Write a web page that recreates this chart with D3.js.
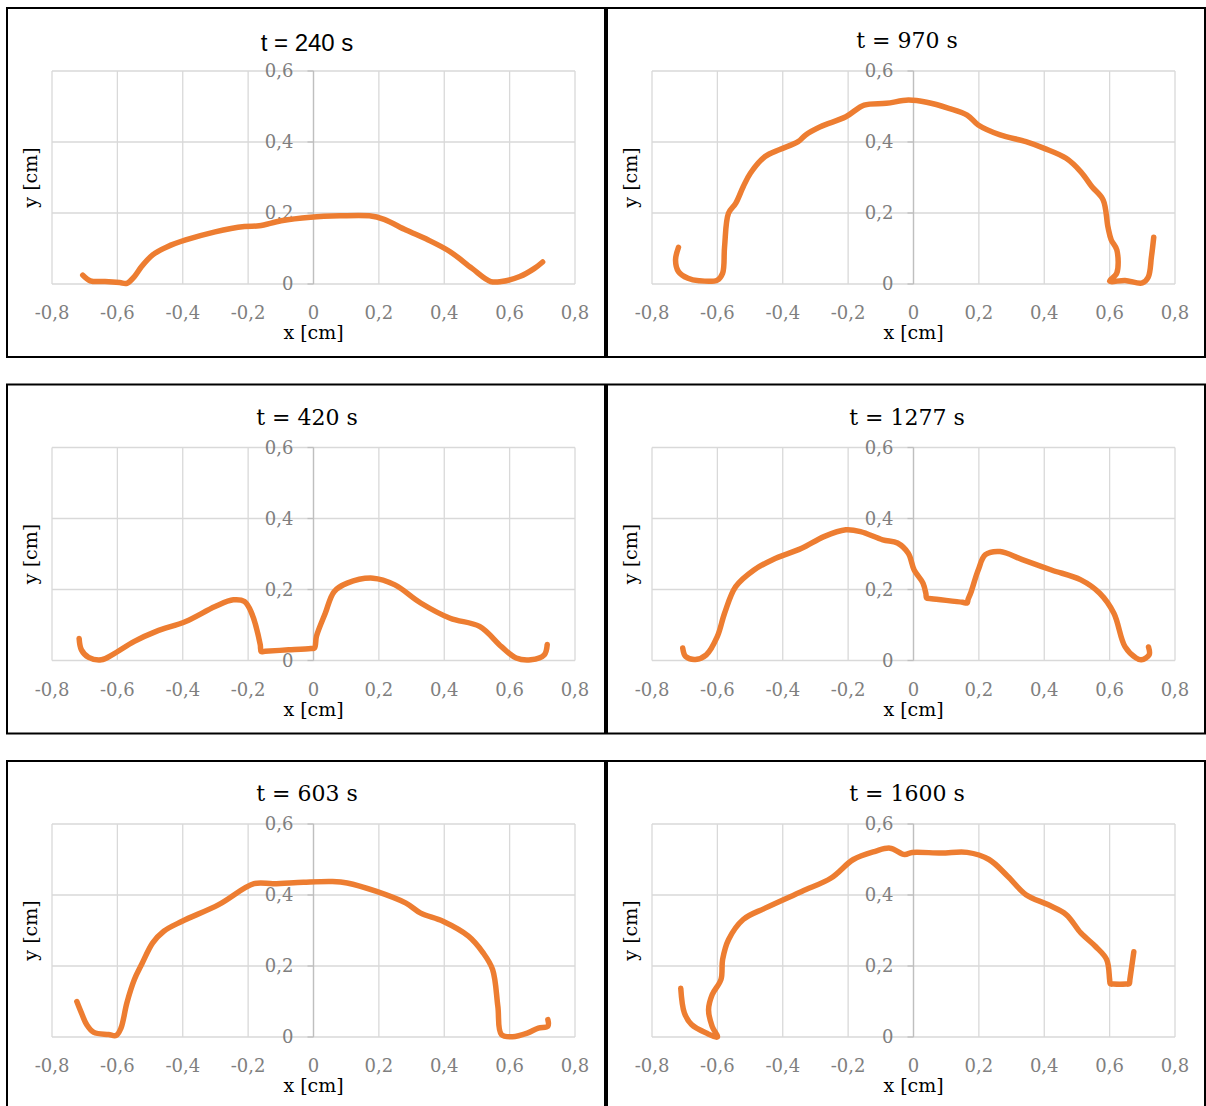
<!DOCTYPE html>
<html>
<head>
<meta charset="utf-8">
<script src="https://cdnjs.cloudflare.com/ajax/libs/d3/7.8.5/d3.min.js"></script>
<style>
  body { margin: 0; background: #fff; }
</style>
</head>
<body>
<script>
// panel titles, in reading order (left/right, top to bottom)
const titles = ["t = 240 s", "t = 970 s", "t = 420 s", "t = 1277 s", "t = 603 s", "t = 1600 s"];
const xTicks = [-0.8, -0.6, -0.4, -0.2, 0, 0.2, 0.4, 0.6, 0.8];
const yTicks = [0, 0.2, 0.4, 0.6];

// interface profiles
const x240 = [-0.706,-0.683,-0.638,-0.593,-0.571,-0.548,-0.526,-0.492,-0.447,-0.391,-0.301,-0.211,-0.166,-0.099,-0.009,0.081,0.171,0.216,0.283,0.351,0.418,0.485,0.542,0.575,0.631,0.676,0.701];
const y240 = [0.025,0.009,0.007,0.004,0.002,0.021,0.049,0.082,0.105,0.124,0.147,0.162,0.164,0.178,0.188,0.192,0.192,0.182,0.152,0.124,0.091,0.044,0.007,0.007,0.021,0.044,0.062];

const x970 = [-0.719,-0.728,-0.719,-0.690,-0.656,-0.600,-0.584,-0.578,-0.566,-0.544,-0.521,-0.499,-0.454,-0.409,-0.353,-0.330,-0.285,-0.207,-0.151,-0.083,-0.016,0.040,0.108,0.164,0.198,0.265,0.344,0.400,0.467,0.512,0.546,0.580,0.595,0.605,0.622,0.622,0.600,0.647,0.700,0.718,0.728,0.735];
const y970 = [0.103,0.068,0.035,0.016,0.009,0.011,0.030,0.105,0.199,0.227,0.274,0.312,0.359,0.379,0.401,0.420,0.443,0.471,0.504,0.509,0.518,0.512,0.495,0.476,0.448,0.420,0.401,0.382,0.354,0.316,0.274,0.237,0.160,0.124,0.096,0.031,0.008,0.010,0.003,0.019,0.077,0.132];

const x420 = [-0.717,-0.710,-0.688,-0.649,-0.616,-0.548,-0.481,-0.391,-0.301,-0.245,-0.211,-0.189,-0.163,-0.160,-0.148,-0.076,-0.008,0.003,0.009,0.036,0.063,0.103,0.182,0.249,0.328,0.418,0.508,0.575,0.620,0.665,0.706,0.715];
const y420 = [0.062,0.030,0.009,0.002,0.016,0.054,0.082,0.110,0.152,0.171,0.166,0.133,0.045,0.025,0.026,0.030,0.034,0.035,0.068,0.133,0.194,0.218,0.232,0.213,0.162,0.119,0.096,0.039,0.007,0.002,0.016,0.045];

const x1277 = [-0.706,-0.697,-0.667,-0.634,-0.600,-0.578,-0.544,-0.488,-0.431,-0.342,-0.274,-0.207,-0.162,-0.094,-0.049,-0.016,0.002,0.029,0.038,0.040,0.055,0.150,0.164,0.167,0.175,0.198,0.220,0.265,0.333,0.422,0.512,0.569,0.613,0.647,0.681,0.697,0.721,0.719];
const y1277 = [0.035,0.011,0.003,0.016,0.068,0.133,0.208,0.255,0.284,0.316,0.349,0.368,0.363,0.340,0.331,0.302,0.255,0.218,0.188,0.176,0.174,0.164,0.162,0.172,0.190,0.255,0.298,0.307,0.284,0.255,0.227,0.190,0.133,0.039,0.007,0.002,0.016,0.038];

const x603 = [-0.724,-0.710,-0.694,-0.672,-0.627,-0.604,-0.589,-0.571,-0.548,-0.526,-0.492,-0.458,-0.402,-0.290,-0.182,-0.122,-0.031,0.058,0.103,0.193,0.283,0.328,0.396,0.474,0.519,0.548,0.564,0.575,0.609,0.654,0.688,0.717,0.717];
const y603 = [0.100,0.068,0.035,0.013,0.007,0.004,0.025,0.096,0.162,0.204,0.265,0.298,0.326,0.373,0.432,0.432,0.436,0.438,0.434,0.410,0.377,0.349,0.326,0.284,0.237,0.190,0.086,0.007,0.001,0.011,0.025,0.030,0.049];

const x1600 = [-0.712,-0.701,-0.679,-0.634,-0.600,-0.616,-0.627,-0.616,-0.589,-0.584,-0.566,-0.521,-0.454,-0.342,-0.252,-0.184,-0.117,-0.072,-0.027,-0.004,0.085,0.164,0.231,0.288,0.344,0.411,0.467,0.512,0.557,0.591,0.600,0.602,0.612,0.650,0.660,0.662,0.674];
const y1600 = [0.137,0.068,0.035,0.011,0.000,0.030,0.077,0.119,0.162,0.218,0.274,0.331,0.363,0.410,0.448,0.500,0.523,0.532,0.514,0.520,0.518,0.520,0.500,0.453,0.401,0.373,0.345,0.293,0.255,0.218,0.162,0.150,0.149,0.149,0.150,0.162,0.240];

const series = [[x240, y240], [x970, y970], [x420, y420], [x1277, y1277], [x603, y603], [x1600, y1600]];

const width = 1206, height = 1106;
const svg = d3.select("body").append("svg")
  .attr("width", width).attr("height", height)
  .style("display", "block");

const serif = "'DejaVu Serif', 'Liberation Serif', serif";
const fmt = d => String(d).replace(".", ",");

series.forEach((s, i) => {
  const col = i % 2, row = Math.floor(i / 2);
  const px = 7 + 600 * col, py = 8 + 376.5 * row;
  const g = svg.append("g");

  g.append("rect")
    .attr("x", px).attr("y", py)
    .attr("width", 598).attr("height", 349)
    .attr("fill", "#fff").attr("stroke", "#000").attr("stroke-width", 2);

  const x = d3.scaleLinear().domain([-0.8, 0.8]).range([px + 45, px + 568]);
  const y = d3.scaleLinear().domain([0, 0.6]).range([py + 276, py + 63]);

  // grid
  g.append("g").selectAll("line").data(xTicks).join("line")
    .attr("x1", d => x(d)).attr("x2", d => x(d))
    .attr("y1", y(0)).attr("y2", y(0.6))
    .attr("stroke", "#d9d9d9").attr("stroke-width", 1.3);
  g.append("g").selectAll("line").data(yTicks).join("line")
    .attr("x1", x(-0.8)).attr("x2", x(0.8))
    .attr("y1", d => y(d)).attr("y2", d => y(d))
    .attr("stroke", "#d9d9d9").attr("stroke-width", 1.3);

  // vertical axis crossing at x = 0
  g.append("line")
    .attr("x1", x(0)).attr("x2", x(0))
    .attr("y1", y(0)).attr("y2", y(0.6))
    .attr("stroke", "#bfbfbf").attr("stroke-width", 1.3);
  g.append("g").selectAll("line").data(yTicks).join("line")
    .attr("x1", x(0) - 6).attr("x2", x(0))
    .attr("y1", d => y(d)).attr("y2", d => y(d))
    .attr("stroke", "#bfbfbf").attr("stroke-width", 1.3);

  g.append("g").selectAll("text").data(yTicks).join("text")
    .attr("x", x(0) - 20).attr("y", d => y(d) + 6)
    .attr("text-anchor", "end")
    .style("font-family", serif).style("font-size", "18px")
    .attr("fill", "#7f7f7f")
    .text(fmt);

  g.append("g").selectAll("text").data(xTicks).join("text")
    .attr("x", d => x(d)).attr("y", y(0) + 35)
    .attr("text-anchor", "middle")
    .style("font-family", serif).style("font-size", "18px")
    .attr("fill", "#7f7f7f")
    .text(fmt);

  // axis titles
  g.append("text")
    .attr("x", x(0)).attr("y", y(0) + 55)
    .attr("text-anchor", "middle")
    .style("font-family", serif).style("font-size", "19px")
    .attr("fill", "#000")
    .text("x [cm]");
  g.append("text")
    .attr("transform", `translate(${px + 30},${(y(0) + y(0.6)) / 2}) rotate(-90)`)
    .attr("text-anchor", "middle")
    .style("font-family", serif).style("font-size", "19px")
    .attr("fill", "#000")
    .text("y [cm]");

  // title (first one is set in a sans face in the original)
  g.append("text")
    .attr("x", px + 300).attr("y", py + (i === 0 ? 43 : 40))
    .attr("text-anchor", "middle")
    .style("font-family", i === 0 ? "'Liberation Sans', Arial, sans-serif" : serif)
    .style("font-size", i === 0 ? "24px" : "22px")
    .attr("fill", "#000")
    .text(titles[i]);

  const line = d3.line()
    .x(d => x(d[0])).y(d => y(d[1]))
    .curve(d3.curveCatmullRom.alpha(0.5));

  g.append("path")
    .datum(s[0].map((v, k) => [v, s[1][k]]))
    .attr("d", line)
    .attr("fill", "none")
    .attr("stroke", "#ed7d31")
    .attr("stroke-width", 5.5)
    .attr("stroke-linecap", "round")
    .attr("stroke-linejoin", "round");
});
</script>
</body>
</html>
